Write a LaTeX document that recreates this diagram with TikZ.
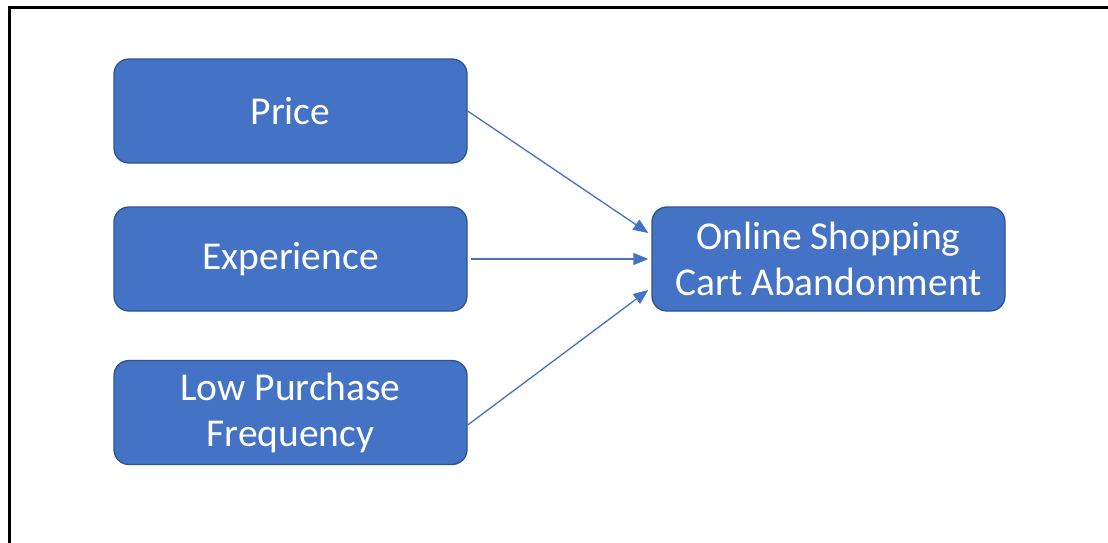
\documentclass[tikz,border=0pt]{standalone}
\usepackage{fontspec}
\setmainfont{Carlito}
\usetikzlibrary{arrows.meta,calc}
\definecolor{boxfill}{HTML}{4472C4}
\definecolor{boxedge}{HTML}{2F528F}
\definecolor{arrowc}{HTML}{4472C4}
\begin{document}
\begin{tikzpicture}[x=1pt,y=-1pt,
  factor/.style={draw=boxedge, line width=1.3pt, fill=boxfill, rounded corners=15pt,
    minimum width=353pt, minimum height=104pt, inner sep=0pt, align=center,
    text=white, font=\fontsize{39.5}{46}\selectfont},
  link/.style={draw=arrowc, line width=1.3pt, -{Triangle[length=15pt,width=12pt]}}]
\useasboundingbox (0,0) rectangle (1108,542);
\fill[white] (0,0) rectangle (1108,542);
\draw[line width=3pt] (9.5,560) -- (9.5,7.5) -- (1120,7.5);
\node[factor] (price) at (290.5,111) {Price};
\node[factor] (exp) at (290.5,259) {Experience};
\node[factor] (lpf) at (290.5,412.5) {Low Purchase\\Frequency};
\node[factor] (tgt) at (828.5,259) {Online Shopping\\Cart Abandonment};
\draw[link] (price.east) -- ($(tgt.west)+(-3,-26)$);
\draw[link] ($(exp.east)+(3,0)$) -- ($(tgt.west)+(-3,0)$);
\draw[link] ($(lpf.east)+(0,12.5)$) -- ($(tgt.west)+(-3,31)$);
\end{tikzpicture}
\end{document}
